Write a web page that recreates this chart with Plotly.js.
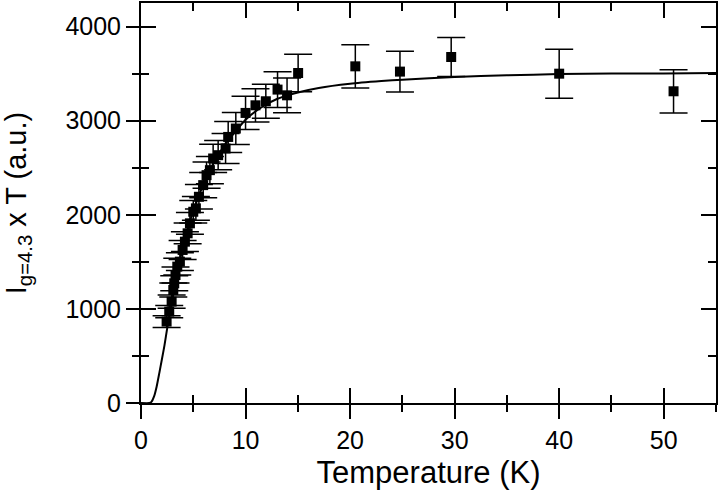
<!DOCTYPE html>
<html>
<head>
<meta charset="utf-8">
<script src="https://cdn.plot.ly/plotly-3.0.1.min.js"></script>
<style>html,body{margin:0;padding:0;background:#fff;}#chart{width:720px;height:497px;}</style>
</head>
<body>
<div id="chart"></div>
<script>
// Measured data points: temperature (K), I x T (a.u.), error (a.u.)
var tempK = [2.45, 2.7, 2.93, 3.09, 3.18, 3.3, 3.47, 3.72, 3.98, 4.2, 4.46, 4.68, 5.0, 5.25, 5.54, 5.95, 6.27, 6.59, 6.9, 7.38, 8.09, 8.34, 9.07, 10.0, 10.95, 11.94, 13.06, 13.97, 15.03, 20.5, 24.77, 29.67, 40.0, 50.94];
var intensityT = [865, 971, 1077, 1201, 1272, 1360, 1449, 1502, 1626, 1714, 1803, 1909, 2032, 2068, 2191, 2315, 2421, 2474, 2598, 2633, 2704, 2827, 2916, 3082, 3163, 3206, 3330, 3269, 3506, 3577, 3521, 3676, 3499, 3312];
var intensityErr = [63, 65, 70, 75, 80, 85, 90, 95, 100, 105, 110, 115, 120, 125, 130, 135, 140, 145, 150, 155, 160, 165, 170, 177, 177, 180, 190, 185, 200, 230, 217, 208, 260, 230];

// Fit curve
var fitT = [0, 0.8, 1.0, 1.25, 1.5, 1.75, 2.0, 2.25, 2.5, 3.0, 3.5, 4.0, 4.5, 5.0, 6.0, 7.0, 8.0, 9.0, 10.0, 11.5, 13.0, 15.0, 17.0, 20.0, 23.0, 25.0, 30.0, 35.0, 40.0, 45.0, 50.0, 55.0];
var fitY = [0, 0, 12, 70, 176, 318, 465, 615, 790, 1100, 1400, 1650, 1860, 2040, 2330, 2560, 2740, 2880, 3010, 3140, 3230, 3300, 3348, 3392, 3420, 3435, 3465, 3482, 3495, 3500, 3502, 3505];

var xTitle = 'Temperature (K)';
var yTitle = 'I<sub>g=4.3</sub> x T (a.u.)';

var FONT = 'Liberation Sans, Arial, sans-serif';

var traces = [
  {
    x: fitT, y: fitY, type: 'scatter', mode: 'lines',
    line: {color: '#000', width: 2, shape: 'spline', smoothing: 0.6},
    hoverinfo: 'skip', showlegend: false, cliponaxis: false
  },
  {
    x: tempK, y: intensityT, type: 'scatter', mode: 'markers',
    marker: {symbol: 'square', size: 10, color: '#000'},
    error_y: {type: 'data', array: intensityErr, visible: true, color: '#000', thickness: 1.5, width: 14},
    showlegend: false
  },
  {
    x: [], y: [], xaxis: 'x2', yaxis: 'y2', type: 'scatter', mode: 'markers', showlegend: false, hoverinfo: 'skip'
  }
];

var common = {showgrid: false, zeroline: false, linecolor: '#000', linewidth: 2, tickcolor: '#000', tickwidth: 2};

var layout = {
  width: 720, height: 497,
  margin: {l: 141, r: 4, t: 3, b: 94},
  paper_bgcolor: '#fff', plot_bgcolor: '#fff',
  font: {family: FONT, color: '#000'},
  showlegend: false,
  xaxis: Object.assign({}, common, {
    range: [0, 55], dtick: 10, tick0: 0, ticks: 'outside', ticklen: 14, showline: true, mirror: true,
    minor: {dtick: 5, ticks: 'outside', ticklen: 7, tickwidth: 2, tickcolor: '#000'},
    tickfont: {size: 25, family: FONT, color: '#000'},
    title: {text: xTitle, font: {size: 31, family: FONT, color: '#000'}, standoff: 8}
  }),
  yaxis: Object.assign({}, common, {
    range: [0, 4250], dtick: 1000, tick0: 0, ticks: 'outside', ticklen: 13, showline: true, mirror: true,
    minor: {dtick: 500, ticks: 'outside', ticklen: 7, tickwidth: 2, tickcolor: '#000'},
    tickfont: {size: 25, family: FONT, color: '#000'},
    title: {text: yTitle, font: {size: 29, family: FONT, color: '#000'}, standoff: 34}
  }),
  xaxis2: Object.assign({}, common, {
    overlaying: 'x', anchor: 'y2', side: 'bottom',
    range: [0, 55], dtick: 10, tick0: 0, ticks: 'inside', ticklen: 15, showline: true, mirror: 'allticks',
    minor: {dtick: 5, ticks: 'inside', ticklen: 8, tickwidth: 2, tickcolor: '#000'},
    showticklabels: false
  }),
  yaxis2: Object.assign({}, common, {
    overlaying: 'y', anchor: 'x2', side: 'left',
    range: [0, 4250], dtick: 1000, tick0: 0, ticks: 'inside', ticklen: 15, showline: true, mirror: 'allticks',
    minor: {dtick: 500, ticks: 'inside', ticklen: 8, tickwidth: 2, tickcolor: '#000'},
    showticklabels: false
  })
};

Plotly.newPlot('chart', traces, layout, {displayModeBar: false, staticPlot: true});
</script>
</body>
</html>
